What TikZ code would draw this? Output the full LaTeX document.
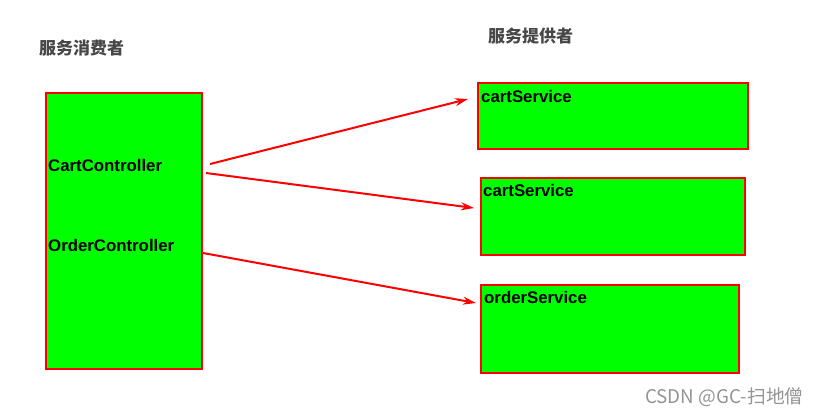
\documentclass[tikz,border=0pt]{standalone}
\usepackage{fontspec}
\setmainfont{Liberation Sans}
\newfontfamily\cjk{Noto Sans CJK SC}
\usetikzlibrary{arrows.meta, positioning}

\begin{document}
\begin{tikzpicture}[x=1pt, y=-1pt,
    box/.style={draw=red, fill=green, line width=2pt, anchor=north west, inner sep=0pt},
    lbl/.style={anchor=west, inner sep=0pt, font=\fontsize{16.8}{18}\selectfont\bfseries},
    title/.style={anchor=west, inner sep=0pt, text=black!72, font=\cjk\bfseries\fontsize{17}{18}\selectfont},
    arr/.style={-{Stealth[length=13pt, width=8pt]}, red, line width=2pt}]
    \useasboundingbox (0,0) rectangle (822,415);

    % Titulos
    \node[title] (tcons) at (39,48) {服务消费者};
    \node[title] (tprov) at (488,36) {服务提供者};

    % Consumidor
    \node[box, minimum width=156pt, minimum height=276pt] (cons) at (45,92) {};
    \node[lbl] (cart) at (48,165) {CartController};
    \node[lbl] (order) at (48,245) {OrderController};

    % Proveedores
    \node[box, minimum width=270pt, minimum height=66pt] (p1) at (477,82) {};
    \node[box, minimum width=264pt, minimum height=77pt] (p2) at (480,177) {};
    \node[box, minimum width=258pt, minimum height=88pt] (p3) at (480,284) {};
    \node[lbl] (s1) at (481,96) {cartService};
    \node[lbl] (s2) at (483,190) {cartService};
    \node[lbl] (s3) at (484,297) {orderService};

    % Llamadas
    \draw[arr] ([xshift=7pt, yshift=67pt]cons.east) -- ([xshift=-9pt, yshift=17pt]p1.west);
    \draw[arr] ([xshift=3pt, yshift=58pt]cons.east) -- ([xshift=-6pt, yshift=8.5pt]p2.west);
    \draw[arr] ([yshift=-22pt]cons.east) -- ([xshift=-4pt, yshift=26pt]p3.west);

    % Marca de agua
    \node[anchor=west, inner sep=0pt, text=black!42, font=\cjk\fontsize{18.8}{20}\selectfont] (wm) at (645,397) {CSDN @GC-扫地僧};
\end{tikzpicture}
\end{document}
